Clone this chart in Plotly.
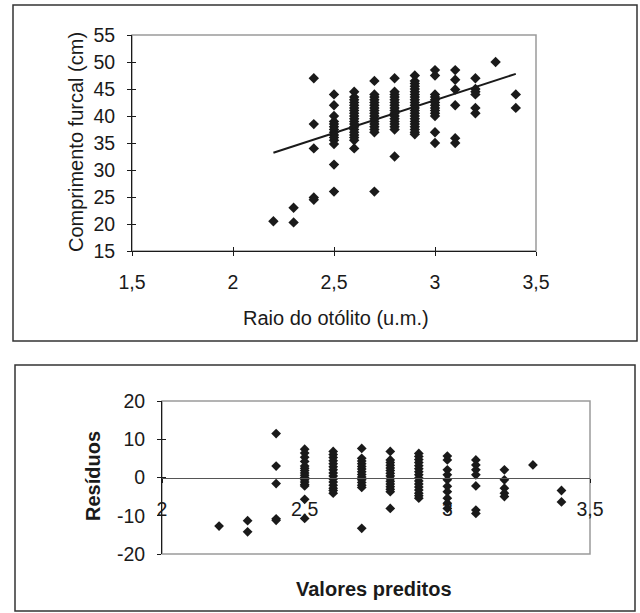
import plotly.graph_objects as go

# --- Comprimento furcal x raio do otólito (gráfico de cima) ---
raio = ([2.2] + [2.3] * 2 + [2.4] * 5 + [2.5] * 14 + [2.6] * 19 + [2.7] * 17
        + [2.8] * 17 + [2.9] * 22 + [3.0] * 13 + [3.1] * 6 + [3.2] * 6 + [3.3] + [3.4] * 2)
comprimento = (
    [20.5]
    + [23.0, 20.3]
    + [47.0, 38.5, 34.0, 24.9, 24.5]
    + [44.0, 42.0, 40.0, 39.0, 38.5, 38.0, 37.5, 37.0, 36.5, 36.0, 35.5, 34.8, 31.0, 26.0]
    + [44.5, 43.5, 43.0, 42.5, 42.0, 41.5, 41.0, 40.5, 40.0, 39.5, 39.0, 38.5, 38.0,
       37.5, 37.0, 36.5, 36.0, 35.5, 34.0]
    + [46.5, 44.0, 43.5, 43.0, 42.5, 42.0, 41.5, 41.0, 40.5, 40.0, 39.5, 39.0, 38.5,
       38.0, 37.5, 37.0, 26.0]
    + [47.0, 44.5, 44.0, 43.5, 43.0, 42.5, 42.0, 41.5, 41.0, 40.5, 40.0, 39.5, 39.0,
       38.5, 38.0, 37.5, 32.5]
    + [47.5, 46.5, 46.0, 45.5, 45.0, 44.5, 44.0, 43.5, 43.0, 42.5, 42.0, 41.5, 41.0,
       40.5, 40.0, 39.5, 39.0, 38.5, 38.0, 37.5, 37.0, 36.6]
    + [48.5, 47.5, 44.0, 43.5, 43.0, 42.5, 42.0, 41.5, 41.0, 40.5, 40.0, 37.0, 35.0]
    + [48.5, 46.7, 44.9, 42.0, 35.9, 35.0]
    + [47.0, 45.0, 44.5, 44.0, 41.5, 40.5]
    + [50.0]
    + [44.0, 41.5]
)
# reta ajustada (extremos)
reta_x = [2.2, 3.4]
reta_y = [33.2, 47.8]

# --- Resíduos x valores preditos (gráfico de baixo) ---
preditos = ([2.2] + [2.3] * 2 + [2.4] * 5 + [2.5] * 16 + [2.6] * 15 + [2.7] * 14
            + [2.8] * 15 + [2.9] * 16 + [3.0] * 10 + [3.1] * 7 + [3.2] * 5 + [3.3] + [3.4] * 2)
residuos = (
    [-12.7]
    + [-11.3, -14.2]
    + [11.5, 3.0, -1.6, -10.8, -11.2]
    + [7.4, 6.4, 5.3, 4.2, 3.0, 2.4, 1.8, 1.2, 0.6, 0.0, -0.6, -1.2, -1.8, -2.2, -5.7, -10.7]
    + [6.8, 6.0, 5.2, 4.4, 3.6, 2.8, 2.0, 1.2, 0.4, -0.4, -1.2, -2.0, -2.8, -3.4, -4.1]
    + [7.6, 5.0, 4.3, 3.6, 2.9, 2.2, 1.5, 0.8, 0.1, -0.6, -1.3, -2.0, -2.6, -13.3]
    + [6.8, 4.6, 3.9, 3.2, 2.5, 1.8, 1.1, 0.4, -0.3, -1.0, -1.7, -2.4, -3.1, -3.7, -8.1]
    + [6.3, 5.5, 4.7, 3.9, 3.1, 2.3, 1.5, 0.7, -0.1, -0.9, -1.7, -2.5, -3.3, -4.1, -4.8, -5.4]
    + [5.6, 4.6, 2.0, 0.7, -0.6, -2.3, -3.7, -5.4, -6.7, -8.1]
    + [4.6, 3.3, 2.0, 0.7, -2.2, -8.5, -9.4]
    + [2.0, -0.6, -2.8, -4.1, -5.0]
    + [3.3]
    + [-3.4, -6.4]
)
res_ticks = [-20, -10, 0, 10, 20]
res_labels = ["-20", "-10", "0", "10", "20"]

W, H = 640, 613
FONT = "Liberation Sans, Arial, sans-serif"
INK = "#1a1a1a"


def px(x):
    return x / W


def py(y):
    return 1 - y / H


fig = go.Figure()

fig.add_trace(go.Scatter(x=raio, y=comprimento, mode="markers", xaxis="x", yaxis="y",
                         marker=dict(symbol="diamond", size=8, color=INK, line_width=0),
                         showlegend=False))
fig.add_trace(go.Scatter(x=reta_x, y=reta_y, mode="lines", xaxis="x", yaxis="y",
                         line=dict(color=INK, width=2), showlegend=False))
fig.add_trace(go.Scatter(x=preditos, y=residuos, mode="markers", xaxis="x2", yaxis="y2",
                         marker=dict(symbol="diamond", size=7.5, color=INK, line_width=0),
                         showlegend=False))

tickfont = dict(family=FONT, size=19.5, color=INK)
top_dom_x = [px(132), px(536)]
top_dom_y = [py(251), py(35)]
bot_dom_x = [px(162), px(590)]
bot_dom_y = [py(554), py(401)]
zero_pos = (bot_dom_y[0] + bot_dom_y[1]) / 2

common = dict(showgrid=False, zeroline=False, tickfont=tickfont, ticklen=4, tickwidth=1,
              tickcolor=INK, linecolor=INK, linewidth=1, showline=True)

fig.update_layout(
    width=W, height=H,
    margin=dict(l=0, r=0, t=0, b=0, autoexpand=False),
    paper_bgcolor="white", plot_bgcolor="white",
    separators=",.",
    xaxis=dict(domain=top_dom_x, range=[1.5, 3.5], dtick=0.5, tick0=1.5, anchor="y",
               ticks="outside", ticklabelstandoff=10, **common),
    yaxis=dict(domain=top_dom_y, range=[15, 55], dtick=5, tick0=15, anchor="x",
               ticks="outside", ticklabelstandoff=8, **common),
    # eixos duplicados só para os traços internos (marcas cruzadas)
    xaxis3=dict(overlaying="x", matches="x", anchor="y", ticks="inside",
                showticklabels=False, showgrid=False, zeroline=False, dtick=0.5, tick0=1.5,
                ticklen=4, tickcolor=INK),
    yaxis3=dict(overlaying="y", matches="y", anchor="x", ticks="inside",
                showticklabels=False, showgrid=False, zeroline=False, dtick=5, tick0=15,
                ticklen=4, tickcolor=INK),
    xaxis2=dict(domain=bot_dom_x, range=[2, 3.5], dtick=0.5, tick0=2, anchor="free",
                position=zero_pos, ticks="outside", ticklabelstandoff=10,
                **{**common, "linecolor": "#555"}),
    yaxis2=dict(domain=bot_dom_y, range=[-20, 20], tickvals=res_ticks, ticktext=res_labels,
                anchor="x2", ticks="outside", ticklabelstandoff=8, **common),
    xaxis4=dict(overlaying="x2", matches="x2", anchor="free", position=zero_pos,
                ticks="inside", showticklabels=False, showgrid=False, zeroline=False,
                dtick=0.5, tick0=2, ticklen=4, tickcolor=INK),
    yaxis4=dict(overlaying="y2", matches="y2", anchor="x2", ticks="inside",
                showticklabels=False, showgrid=False, zeroline=False, tickvals=res_ticks,
                ticklen=4, tickcolor=INK),
)

# traços fantasmas para ativar os eixos duplicados
fig.add_trace(go.Scatter(x=[None], y=[None], xaxis="x3", yaxis="y3", showlegend=False))
fig.add_trace(go.Scatter(x=[None], y=[None], xaxis="x4", yaxis="y4", showlegend=False))

# molduras: área de plotagem (cinza) e caixas externas
fig.add_shape(type="rect", xref="paper", yref="paper", layer="below",
              x0=top_dom_x[0], x1=top_dom_x[1], y0=top_dom_y[0], y1=top_dom_y[1],
              line=dict(color="#9a9a9a", width=1.5))
fig.add_shape(type="rect", xref="paper", yref="paper", layer="below",
              x0=bot_dom_x[0], x1=bot_dom_x[1], y0=bot_dom_y[0], y1=bot_dom_y[1],
              line=dict(color="#9a9a9a", width=1.5))
fig.add_shape(type="rect", xref="paper", yref="paper",
              x0=px(13), x1=px(637), y0=py(341), y1=py(5),
              line=dict(color="#333", width=1.5))
fig.add_shape(type="rect", xref="paper", yref="paper",
              x0=px(15), x1=px(635), y0=py(611), y1=py(365),
              line=dict(color="#333", width=1.5))

titlefont = dict(family=FONT, size=20, color=INK)
titulos = [
    ("Comprimento furcal (cm)", 76, 142, -90),
    ("Raio do otólito (u.m.)", 336, 318, 0),
    ("<b>Resíduos</b>", 93, 476, -90),
    ("<b>Valores preditos</b>", 374, 589, 0),
]
for texto, tx, ty, ang in titulos:
    fig.add_annotation(text=texto, x=px(tx), y=py(ty), xref="paper", yref="paper",
                       xanchor="center", yanchor="middle", textangle=ang,
                       showarrow=False, font=titlefont)

# sem margem do body, para a figura ocupar a janela exatamente
fig.write_html("out.html", config={"displayModeBar": False},
               post_script="document.body.style.margin='0';document.body.style.overflow='hidden';")
